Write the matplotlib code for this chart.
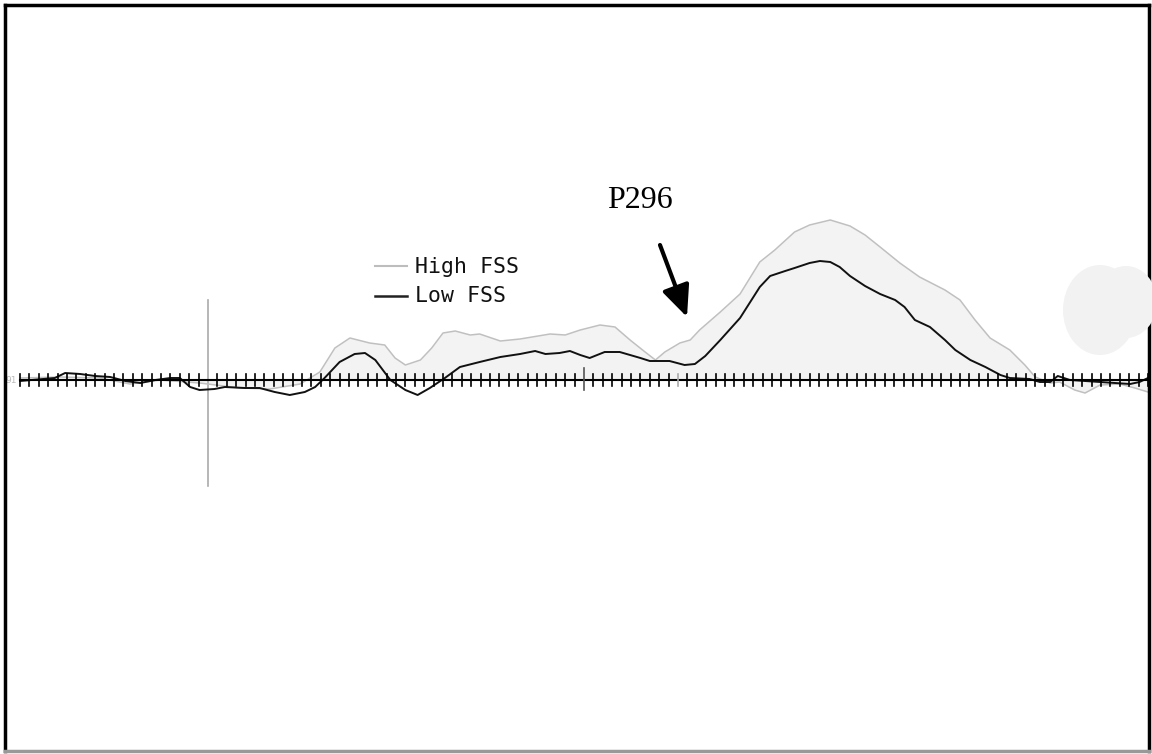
import matplotlib
matplotlib.use("Agg")
import matplotlib.pyplot as plt
from matplotlib.patches import Ellipse
from matplotlib.lines import Line2D
import numpy as np

# ---- data (time in ms, amplitude in µV) ----
high_t = [-200, -157, -115, -83, -51, -9, 34, 66, 98, 119, 135, 151, 172, 188, 199, 210,
          226, 238, 250, 263, 279, 289, 311, 332, 364, 380, 396, 417, 433, 449, 465, 476,
          486, 502, 513, 523, 545, 566, 587, 603, 624, 640, 662, 683, 699, 715, 736, 757,
          784, 800, 816, 832, 853, 869, 880, 896, 906, 922, 933, 949, 970, 986, 1000]
high_v = [0.2, 0.3, 0.2, -0.4, 0.0, -0.3, -0.8, -0.9, -0.4, 0.8, 3.2, 4.2, 3.7, 3.5, 2.2, 1.5,
          2.0, 3.2, 4.7, 4.9, 4.5, 4.6, 3.9, 4.1, 4.6, 4.5, 5.0, 5.5, 5.3, 4.0, 2.8, 2.0,
          2.8, 3.7, 4.0, 5.0, 6.8, 8.6, 11.8, 13.0, 14.8, 15.5, 16.0, 15.4, 14.5, 13.3, 11.7, 10.3,
          9.0, 8.0, 6.0, 4.2, 3.0, 1.5, 0.3, -0.3, -0.2, -1.0, -1.3, -0.5, -0.4, -0.8, -1.2]

low_t = [-200, -163, -152, -136, -120, -104, -88, -72, -56, -40, -30, -19, -9, 7, 18, 39,
         55, 71, 87, 103, 114, 124, 140, 156, 167, 178, 194, 210, 223, 236, 252, 268,
         289, 311, 332, 348, 359, 374, 385, 396, 406, 422, 438, 460, 470, 491, 507, 518,
         529, 545, 566, 587, 598, 614, 624, 640, 651, 662, 672, 683, 699, 715, 731, 741,
         752, 768, 784, 795, 811, 827, 843, 853, 874, 885, 896, 904, 917, 933, 949, 965,
         981, 991, 1000]
low_v = [-0.1, 0.2, 0.7, 0.6, 0.4, 0.3, -0.1, -0.3, 0.0, 0.2, 0.2, -0.7, -1.0, -0.9, -0.7, -0.8,
         -0.8, -1.2, -1.5, -1.2, -0.7, 0.2, 1.8, 2.6, 2.7, 2.0, 0.0, -1.0, -1.5, -0.8, 0.2, 1.3,
         1.8, 2.3, 2.6, 2.9, 2.6, 2.7, 2.9, 2.5, 2.2, 2.8, 2.8, 2.2, 1.9, 1.9, 1.5, 1.6,
         2.4, 4.0, 6.2, 9.3, 10.4, 10.9, 11.2, 11.7, 11.9, 11.8, 11.3, 10.4, 9.4, 8.6, 8.0, 7.3,
         6.0, 5.3, 4.0, 3.0, 2.0, 1.3, 0.5, 0.2, 0.1, -0.2, -0.2, 0.4, 0.0, -0.1, -0.2, -0.3,
         -0.4, -0.2, 0.2]

series_labels = ["High FSS", "Low FSS"]
peak_label = "P296"
tick_times = list(range(-200, 1001, 10))

W, H = 1152, 754
fig = plt.figure(figsize=(W / 100, H / 100), dpi=100)
ax = fig.add_axes([0, 0, 1, 1])
ax.set_xlim(-208 / 0.94, (W - 208) / 0.94)
ax.set_ylim((380 - H) / 10, 380 / 10)
ax.axis("off")

# fill and curves
ax.fill_between(high_t, high_v, 0, color="#f3f3f3", lw=0, zorder=1)
ax.plot(high_t, high_v, color="#c0c0c0", lw=1.1, zorder=3)
ax.plot(low_t, low_v, color="#111111", lw=1.4, zorder=4)

# baseline axis and ticks
ax.plot([-200, 1000], [0, 0], color="black", lw=1.5, zorder=5)
for t in tick_times:
    if t == 0:
        continue
    if t == 400:
        ax.plot([t, t], [-1.0, 1.2], color="#555555", lw=1.2, zorder=5)
    elif t == 500:
        ax.plot([t, t], [-0.6, 0.6], color="#aaaaaa", lw=1.2, zorder=5)
    else:
        ax.plot([t, t], [-0.6, 0.6], color="black", lw=1.2, zorder=5)
# vertical line at stimulus onset
ax.plot([0, 0], [8.0, -10.6], color="#aaaaaa", lw=1.2, zorder=2)
ax.text(-203, 0, "91", color="#bbbbbb", fontsize=6.5, ha="right", va="center",
        family="DejaVu Sans")

# legend
fig.add_artist(Line2D([375 / W, 407 / W], [1 - 266 / H] * 2, color="#bdbdbd", lw=1.5))
fig.add_artist(Line2D([375 / W, 407 / W], [1 - 296 / H] * 2, color="#222222", lw=1.8))
fig.text(415 / W, 1 - 267 / H, series_labels[0], fontsize=15.5, family="DejaVu Sans Mono",
         va="center", ha="left", color="#111111")
fig.text(415 / W, 1 - 296 / H, series_labels[1], fontsize=15.5, family="DejaVu Sans Mono",
         va="center", ha="left", color="#111111")

# annotation
fig.text(640 / W, 1 - 201 / H, peak_label, fontsize=23, family="Liberation Serif",
         ha="center", va="center", color="black")
ax.annotate("", xy=(687, H - 317), xytext=(660, H - 245),
            xycoords="figure pixels", textcoords="figure pixels",
            arrowprops=dict(arrowstyle="-|>,head_length=1.9,head_width=0.85",
                            color="black", lw=3, shrinkA=0, shrinkB=0))

# border
fig.add_artist(Line2D([5 / W, 5 / W], [1 - 5 / H, 1 - 751 / H], color="black", lw=2.5))
fig.add_artist(Line2D([5 / W, 1149 / W], [1 - 5 / H, 1 - 5 / H], color="black", lw=2.5))
fig.add_artist(Line2D([1149 / W, 1149 / W], [1 - 5 / H, 1 - 751 / H], color="black", lw=2.5))
fig.add_artist(Line2D([5 / W, 1149 / W], [1 - 751 / H, 1 - 751 / H], color="#999999", lw=2.5))

# light gray blob on the right
for cx, cy, w, h in [(1100, 310, 74, 90), (1126, 302, 62, 72)]:
    fig.add_artist(Ellipse((cx / W, 1 - cy / H), w / W, h / H,
                           facecolor="#f2f2f2", edgecolor="none", zorder=10))

fig.savefig("out.png", dpi=100)
